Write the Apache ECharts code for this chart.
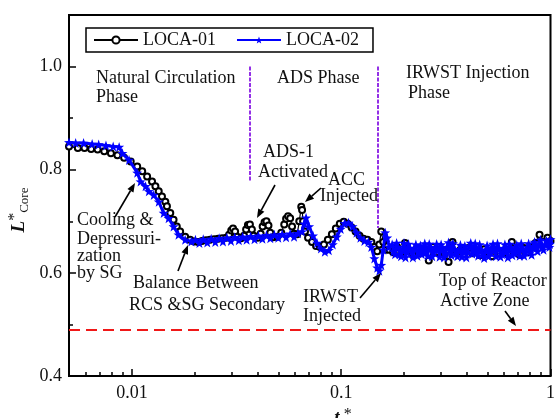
<!DOCTYPE html>
<html><head><meta charset="utf-8">
<script src="https://cdn.jsdelivr.net/npm/echarts@6/dist/echarts.min.js"></script>
<style>html,body{margin:0;padding:0;background:#fff}#c{width:558px;height:418px}</style>
</head><body><div id="c"></div>
<script>
// ---- data: [t*, L*Core] ----
const loca01 = [
 [0.005,0.845],[0.00551,0.842],[0.00593,0.842],[0.00638,0.840],[0.00685,0.839],[0.00737,0.836],[0.00793,0.832],[0.00852,0.828],
 [0.00917,0.823],[0.00986,0.816],[0.01059,0.806],[0.01119,0.797],[0.01181,0.787],[0.01247,0.777],[0.01294,0.768],[0.01342,0.758],
 [0.01391,0.748],[0.01443,0.738],[0.01469,0.729],[0.01524,0.716],[0.0158,0.703],[0.01637,0.690],[0.01699,0.680],[0.01795,0.670],[0.01895,0.664],
 [0.0198,0.661],[0.0207,0.660],[0.0216,0.662],[0.0226,0.663],[0.0236,0.664],[0.0247,0.665],[0.0258,0.666],[0.0270,0.667],[0.0282,0.668],
 [0.0291,0.674],[0.0298,0.682],[0.0304,0.686],[0.0311,0.680],[0.0318,0.670],[0.0332,0.667],[0.0343,0.672],[0.0351,0.684],[0.0358,0.693],
 [0.0366,0.694],[0.0374,0.684],[0.0382,0.672],[0.0399,0.668],[0.0412,0.676],[0.0421,0.690],[0.0430,0.698],[0.0439,0.700],[0.0449,0.692],
 [0.0458,0.678],[0.0473,0.669],[0.0495,0.670],[0.0517,0.678],[0.0534,0.694],[0.0545,0.705],[0.0557,0.710],[0.0570,0.706],[0.0582,0.690],
 [0.0595,0.676],[0.0616,0.675],[0.0630,0.700],[0.0644,0.728],[0.0650,0.722],[0.0657,0.700],[0.0671,0.680],[0.0694,0.668],[0.0725,0.660],
 [0.0758,0.652],[0.0791,0.650],[0.0827,0.655],[0.0863,0.664],[0.0902,0.675],[0.0942,0.686],[0.0984,0.695],[0.1028,0.699],[0.1073,0.695],
 [0.1121,0.688],[0.1171,0.680],[0.1223,0.672],[0.1277,0.666],[0.1334,0.664],[0.1393,0.660],[0.1439,0.650],[0.1486,0.642],[0.1520,0.655],
 [0.1553,0.680],[0.1588,0.660],[0.164,0.645],
 [0.1695,0.645],[0.1770,0.640],[0.1849,0.650],[0.1931,0.636],[0.2017,0.658],[0.2107,0.642],[0.2201,0.634],[0.2299,0.648],[0.2401,0.638],
 [0.2508,0.645],[0.2620,0.624],[0.2736,0.650],[0.2858,0.640],[0.2985,0.646],[0.3118,0.635],[0.3257,0.621],[0.3402,0.660],[0.3553,0.640],
 [0.3711,0.645],[0.3876,0.636],[0.4049,0.648],[0.4229,0.638],[0.4417,0.644],[0.4614,0.634],[0.4819,0.646],[0.5033,0.640],[0.5257,0.632],
 [0.5491,0.645],[0.5736,0.638],[0.5991,0.643],[0.6257,0.636],[0.6536,0.660],[0.6826,0.642],[0.7130,0.635],[0.7447,0.648],[0.7779,0.640],
 [0.8125,0.650],[0.8487,0.658],[0.8864,0.674],[0.9259,0.660],[0.9671,0.668],[1.0,0.662]
];
const loca02 = [
 [0.005,0.853],[0.00538,0.852],[0.00587,0.852],[0.00645,0.850],[0.00693,0.849],[0.00751,0.847],[0.00813,0.845],[0.00868,0.844],
 [0.0090,0.832],[0.00968,0.819],[0.01059,0.794],[0.01099,0.777],[0.01161,0.768],[0.01204,0.758],[0.0127,0.751],[0.01342,0.738],
 [0.01417,0.716],[0.01496,0.706],[0.0158,0.690],[0.01668,0.674],[0.01795,0.664],[0.01922,0.661],
 [0.0201,0.664],[0.0210,0.658],[0.0219,0.665],[0.0229,0.659],[0.0239,0.666],[0.0250,0.660],[0.0261,0.667],[0.0272,0.661],[0.0284,0.668],
 [0.0297,0.662],[0.0310,0.669],[0.0324,0.663],[0.0338,0.670],[0.0353,0.664],[0.0369,0.671],[0.0385,0.665],[0.0402,0.672],[0.0420,0.666],
 [0.0439,0.673],[0.0458,0.667],[0.0479,0.674],[0.0500,0.668],[0.0522,0.675],[0.0545,0.669],[0.0570,0.676],[0.0595,0.670],[0.0621,0.677],
 [0.0649,0.680],[0.0664,0.695],[0.0679,0.707],[0.0702,0.690],[0.0733,0.672],[0.0766,0.658],[0.0800,0.647],[0.0835,0.641],[0.0872,0.644],
 [0.0911,0.655],[0.0952,0.670],[0.0994,0.685],[0.1038,0.696],[0.1084,0.697],[0.1132,0.690],[0.1183,0.678],[0.1235,0.668],[0.1290,0.662],
 [0.1348,0.660],[0.1392,0.650],[0.1439,0.628],[0.1486,0.610],[0.1520,0.604],[0.1553,0.615],[0.1588,0.645],[0.1622,0.678],[0.1658,0.668],[0.1695,0.650],
 [0.1751,0.655],[0.1780,0.641],[0.1809,0.636],[0.1839,0.658],[0.1869,0.650],[0.1900,0.636],[0.1931,0.632],[0.1963,0.646],[0.1995,0.658],[0.2028,0.630],
 [0.2061,0.640],[0.2095,0.656],[0.2130,0.648],[0.2165,0.640],[0.2200,0.630],[0.2236,0.648],[0.2273,0.655],[0.2311,0.633],[0.2349,0.642],[0.2388,0.653],
 [0.2427,0.636],[0.2467,0.645],[0.2507,0.657],[0.2548,0.640],[0.2590,0.633],[0.2633,0.656],[0.2676,0.650],[0.2720,0.632],[0.2765,0.640],[0.2811,0.648],
 [0.2857,0.656],[0.2904,0.644],[0.2952,0.631],[0.3001,0.655],[0.3050,0.648],[0.3100,0.630],[0.3151,0.638],[0.3203,0.650],[0.3255,0.659],[0.3309,0.643],
 [0.3363,0.634],[0.3418,0.657],[0.3475,0.646],[0.3532,0.637],[0.3590,0.632],[0.3649,0.644],[0.3710,0.654],[0.3771,0.631],[0.3833,0.641],[0.3896,0.652],
 [0.3960,0.630],[0.4025,0.641],[0.4091,0.652],[0.4158,0.658],[0.4227,0.637],[0.4297,0.645],[0.4368,0.657],[0.4440,0.639],[0.4513,0.633],[0.4587,0.655],
 [0.4662,0.645],[0.4739,0.637],[0.4817,0.629],[0.4896,0.644],[0.4977,0.653],[0.5059,0.632],[0.5142,0.640],[0.5227,0.649],[0.5313,0.656],[0.5401,0.643],
 [0.5489,0.632],[0.5580,0.657],[0.5671,0.648],[0.5765,0.631],[0.5860,0.636],[0.5957,0.646],[0.6054,0.655],[0.6154,0.641],[0.6255,0.630],[0.6358,0.656],
 [0.6462,0.650],[0.6569,0.634],[0.6677,0.638],[0.6787,0.647],[0.6898,0.654],[0.7012,0.642],[0.7127,0.633],[0.7245,0.657],[0.7364,0.646],[0.7486,0.633],
 [0.7608,0.640],[0.7734,0.650],[0.7861,0.657],[0.7991,0.644],[0.8122,0.635],[0.8256,0.652],[0.8391,0.660],[0.8529,0.648],[0.8670,0.642],[0.8813,0.656],
 [0.8958,0.664],[0.9106,0.650],[0.9255,0.645],[0.9408,0.655],[0.9563,0.662],[0.9721,0.658],[0.9880,0.650],[0.994,0.656],[1.0,0.665]
];
const xMajorTicks = [0.01, 0.1, 1];
const xMinorTicks = [0.006,0.007,0.008,0.009,0.02,0.03,0.04,0.05,0.06,0.07,0.08,0.09,0.2,0.3,0.4,0.5,0.6,0.7,0.8,0.9];
const yMajorTicks = [0.4, 0.6, 0.8, 1.0];
const yMinorTicks = [0.5, 0.7, 0.9];
const topOfActiveZone = 0.49;
const phaseBoundaries = [[0.0365, 1.0, 0.777], [0.1488, 1.0, 0.687]];

const FONT = '"Liberation Serif", "Times New Roman", serif';
const TXT = '#111';
const star = 'path://M0,-10L2.35,-3.24L9.51,-3.09L3.8,1.24L5.88,8.09L0,4L-5.88,8.09L-3.8,1.24L-9.51,-3.09L-2.35,-3.24Z';

function txt(x, y, s) {
  return {type:'text', x:x, y:y, z:100, style:{text:s, font:'18px ' + FONT, fill:TXT, verticalAlign:'middle', align:'left'}};
}
function arrow(x1, y1, x2, y2) {
  const a = Math.atan2(y2 - y1, x2 - x1), L = 9, W = 3.5;
  const bx = x2 - L * Math.cos(a), by = y2 - L * Math.sin(a);
  const px = -Math.sin(a) * W, py = Math.cos(a) * W;
  return [
    {type:'line', z:100, shape:{x1:x1, y1:y1, x2:bx, y2:by}, style:{stroke:'#000', lineWidth:1.6}},
    {type:'polygon', z:100, shape:{points:[[x2,y2],[bx+px,by+py],[bx-px,by-py]]}, style:{fill:'#000'}}
  ];
}

const chart = echarts.init(document.getElementById('c'), null, {renderer:'canvas'});
const fmtX = v => String(Number(v.toPrecision(3)));
chart.setOption({
  animation: false,
  backgroundColor: '#fff',
  grid: {left:69, right:2, top:15, bottom:42, show:true, borderColor:'#000', borderWidth:2},
  legend: {
    left: 86, top: 28, padding:[3,14,3,7], itemGap: 20, itemWidth: 44, itemHeight: 9,
    borderColor:'#000', borderWidth:1.5,
    textStyle:{fontFamily:FONT, fontSize:18, color:TXT},
    data:['LOCA-01','LOCA-02']
  },
  xAxis: [
    {type:'log', logBase:10, min:0.005, max:1,
     axisLine:{show:true, lineStyle:{color:'#000', width:2}},
     axisTick:{inside:true, length:7, customValues:xMajorTicks, lineStyle:{color:'#000', width:1.5}},
     axisLabel:{customValues:xMajorTicks, margin:8, fontFamily:FONT, fontSize:18, color:TXT, formatter:fmtX},
     splitLine:{show:false}, minorTick:{show:false}},
    {type:'log', logBase:10, min:0.005, max:1, position:'bottom', offset:0,
     axisLine:{show:false},
     axisTick:{inside:true, length:4, customValues:xMinorTicks, lineStyle:{color:'#000', width:1.5}},
     axisLabel:{show:false}, splitLine:{show:false}}
  ],
  yAxis: [
    {type:'value', min:0.4, max:1.1,
     axisLine:{show:true, lineStyle:{color:'#000', width:2}},
     axisTick:{inside:true, length:7, customValues:yMajorTicks, lineStyle:{color:'#000', width:1.5}},
     axisLabel:{customValues:yMajorTicks, margin:7, fontFamily:FONT, fontSize:18, color:TXT, formatter:v => v.toFixed(1)},
     splitLine:{show:false}},
    {type:'value', min:0.4, max:1.1, position:'left', offset:0,
     axisLine:{show:false},
     axisTick:{inside:true, length:4, customValues:yMinorTicks, lineStyle:{color:'#000', width:1.5}},
     axisLabel:{show:false}, splitLine:{show:false}}
  ],
  series: [
    {name:'LOCA-01', type:'line', data:loca01, symbol:'emptyCircle', symbolSize:6, showAllSymbol:true,
     lineStyle:{color:'#000', width:1.2}, itemStyle:{color:'#000', borderWidth:1.4}, z:2,
     markLine:{silent:true, symbol:'none', label:{show:false},
       data:[
         {yAxis:topOfActiveZone, lineStyle:{color:'#f01818', width:2, type:[11,6]}},
         [{coord:[phaseBoundaries[0][0], phaseBoundaries[0][1]]},{coord:[phaseBoundaries[0][0], phaseBoundaries[0][2]], lineStyle:{color:'#9330e6', width:2, type:[4,1.5]}}],
         [{coord:[phaseBoundaries[1][0], phaseBoundaries[1][1]]},{coord:[phaseBoundaries[1][0], phaseBoundaries[1][2]], lineStyle:{color:'#9330e6', width:2, type:[4,1.5]}}]
       ]}},
    {name:'LOCA-02', type:'line', data:loca02, symbol:star, symbolSize:10, showAllSymbol:true,
     lineStyle:{color:'#0000ff', width:3}, itemStyle:{color:'#0000ff'}, z:3}
  ],
  graphic: [
    txt(96, 78, 'Natural Circulation'), txt(96, 97, 'Phase'),
    txt(277, 78, 'ADS Phase'),
    txt(406, 73, 'IRWST Injection'), txt(408, 93, 'Phase'),
    txt(263, 152, 'ADS-1'), txt(258, 172, 'Activated'),
    txt(328, 180, 'ACC'), txt(320, 196, 'Injected'),
    txt(77, 220, 'Cooling &'), txt(77, 239, 'Depressuri-'), txt(77, 256, 'zation'), txt(77, 273, 'by SG'),
    txt(133, 283, 'Balance Between'), txt(129, 305, 'RCS &SG Secondary'),
    txt(303, 297, 'IRWST'), txt(303, 316, 'Injected'),
    txt(439, 281, 'Top of Reactor'), txt(440, 301, 'Active Zone'),
    ...arrow(115, 217, 135, 183),
    ...arrow(178, 271, 188, 245),
    ...arrow(275, 185, 257, 218),
    ...arrow(321, 188, 305, 202),
    ...arrow(360, 298, 381, 273),
    ...arrow(505, 311, 516, 326),
    {type:'text', x:343, y:418, z:100, style:{
      text:'{t|t}{s| *}', verticalAlign:'middle', align:'center',
      rich:{t:{font:'italic bold 19px ' + FONT, fill:TXT, lineHeight:22},
            s:{font:'16px ' + FONT, fill:TXT, lineHeight:14, verticalAlign:'top'}}}},
    {type:'text', x:19, y:210, rotation:Math.PI/2, z:100, style:{
      text:'{l|L}{s|*}{c|Core}', verticalAlign:'middle', align:'center',
      rich:{l:{font:'italic bold 19px ' + FONT, fill:TXT, lineHeight:24},
            s:{font:'16px ' + FONT, fill:TXT, lineHeight:12, verticalAlign:'top'},
            c:{font:'13px ' + FONT, fill:TXT, lineHeight:12, verticalAlign:'bottom'}}}}
  ]
});
</script>
</body></html>
